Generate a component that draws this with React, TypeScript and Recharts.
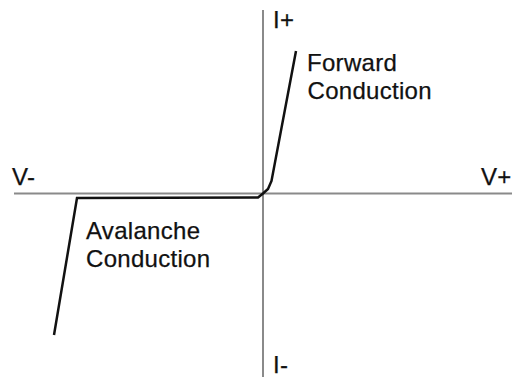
import { LineChart, Line, XAxis, YAxis, ReferenceLine, ReferenceDot } from "recharts";

// diode I-V curve, schematic units (V across, I up)
const volts = [-20.9, -18.6, -0.5, 0, 0.5, 0.85, 3.3];
const amps = [-14.15, -0.45, -0.4, 0, 0.45, 1.25, 14.25];

const labelTexts = ["I+", "I-", "V-", "V+", "Forward", "Conduction", "Avalanche", "Conduction"];
const labelV = [1.0, 1.0, -25.1, 21.8, 4.4, 4.45, -17.7, -17.7];
const labelI = [16.55, -17.9, 0.85, 0.85, 12.25, 9.5, -4.55, -7.35];

const curve = volts.map((v, idx) => ({ v, i: amps[idx] }));
const labels = labelTexts.map((text, idx) => ({ text, v: labelV[idx], i: labelI[idx] }));

const textShape = (text: string) => (props: any) => (
  <text
    x={props.cx}
    y={props.cy}
    fill="#111"
    stroke="#111"
    strokeWidth={0.25}
    fontSize={24}
    letterSpacing={0.3}
    fontFamily="'Liberation Sans', Arial, sans-serif"
  >
    {text}
  </text>
);

const App = () => {
  return (
    <div style={{ position: "absolute", left: 0, top: 0, background: "#fff" }}>
      <LineChart width={512} height={379} data={curve} margin={{ top: 0, right: 0, bottom: 0, left: 0 }}>
        <XAxis dataKey="v" type="number" domain={[-26.3, 24.9]} allowDataOverflow hide />
        <YAxis type="number" domain={[-18.55, 19.35]} allowDataOverflow hide />
        <ReferenceLine
          segment={[{ x: -24.9, y: 0 }, { x: 24.9, y: 0 }]}
          stroke="#8a8a8a"
          strokeWidth={2}
          ifOverflow="visible"
        />
        <ReferenceLine
          segment={[{ x: 0, y: 18.35 }, { x: 0, y: -18.35 }]}
          stroke="#8a8a8a"
          strokeWidth={2}
          ifOverflow="visible"
        />
        <Line
          dataKey="i"
          type="linear"
          stroke="#111"
          strokeWidth={2.5}
          dot={false}
          activeDot={false}
          isAnimationActive={false}
        />
        {labels.map((l, idx) => (
          <ReferenceDot
            key={`lbl-${idx}`}
            x={l.v}
            y={l.i}
            r={0}
            ifOverflow="visible"
            shape={textShape(l.text)}
          />
        ))}
      </LineChart>
    </div>
  );
};

export default App;
